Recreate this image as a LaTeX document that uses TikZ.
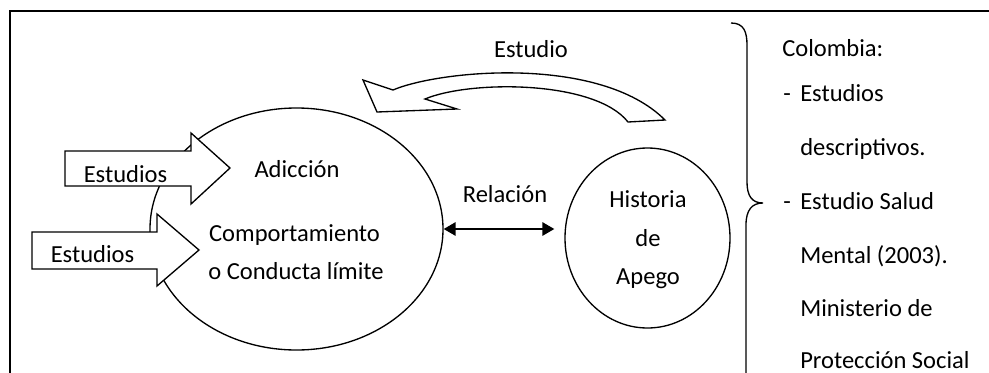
\documentclass[tikz,border=0pt]{standalone}
\usepackage{fontspec}
\setmainfont{Carlito}
\usetikzlibrary{arrows.meta,shapes.geometric}

\begin{document}
\begin{tikzpicture}[x=0.75pt,y=-0.75pt,
		linea/.style={draw,line width=1pt},
		bloque/.style={draw,fill=white,line width=1pt,line join=miter},
		texto/.style={anchor=base,inner sep=0pt,font=\fontsize{18.4}{22}\selectfont},
		lista/.style={texto,anchor=base west}]
				\useasboundingbox (0,0) rectangle (989,372);
				\clip (0,0) rectangle (989,372);
				% marco
				\draw [line width=1pt] (1000,11) -- (10,11) -- (10,400);
				\node [linea,ellipse,minimum width=219.75pt,minimum height=181.5pt] (adic) at (296.5,229) {};
				\node [linea,ellipse,minimum width=123.75pt,minimum height=135pt] (apego) at (647.5,238) {};
				% flechas de estudios
				\path [bloque] (65,151) -- (191,151) -- (191,133) -- (230,168) -- (191,204) -- (191,186) -- (65,186) -- cycle;
				\path [bloque] (32,232) -- (157,232) -- (157,214) -- (199,250) -- (157,286) -- (157,269) -- (32,269) -- cycle;
				\path [bloque] (377,112) -- (363,80) -- (393,90) .. controls (440,70) and (600,55) .. (665,120) -- (628,122) .. controls (595,80) and (470,80) .. (425,99) -- (457,109) -- cycle;
				% llave
				\draw [line width=1pt] (731,23) .. controls (744,23) and (747,32) .. (747,45) -- (747,182) .. controls (747,196) and (752,203) .. (763,203) .. controls (752,203) and (746,210) .. (746,225) -- (746,400);
				\node [texto] (est1) at (125.5,182) {Estudios};
				\node [texto] (est2) at (92.5,262) {Estudios};
				\node [texto] (adicc) at (297,177) {Adicción};
				\node [texto] (comp) at (294.5,241) {Comportamiento};
				\node [texto] (cond) at (296,279) {o Conducta límite};
				\node [texto] (hist) at (648,207) {Historia};
				\node [texto] (de) at (648,246) {de};
				\node [texto] (ape) at (648,284) {Apego};
				\node [texto] (rel) at (505,202) {Relación};
				\node [texto] (estu) at (531,57) {Estudio};
				\draw [line width=1.5pt,{Triangle[length=9pt,width=10pt]}-{Triangle[length=9pt,width=10pt]},shorten >=7.5pt] (adic.east) -- (adic.east -| apego.west);
				% texto de la derecha
				\node [lista] (col) at (782,56) {Colombia:};
				\node [lista] (l1) at (783,101) {\makebox[12.75pt][l]{-}Estudios};
				\node [lista] (l2) at (800,155) {descriptivos.};
				\node [lista] (l3) at (783,209) {\makebox[12.75pt][l]{-}Estudio Salud};
				\node [lista] (l4) at (800,263) {Mental (2003).};
				\node [lista] (l5) at (800,316) {Ministerio de};
				\node [lista] (l6) at (800,368) {Protección Social};
			\end{tikzpicture}
\end{document}
